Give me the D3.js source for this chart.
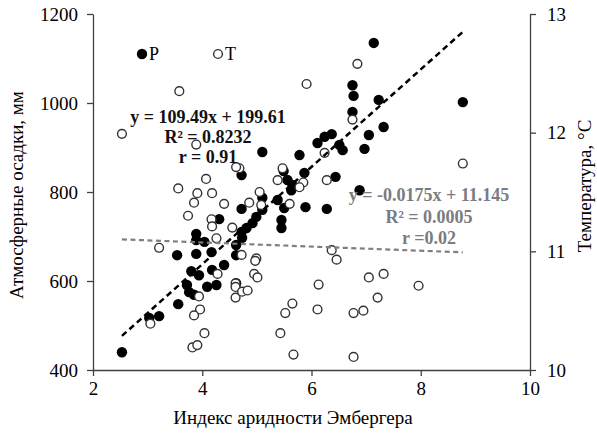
<!DOCTYPE html>
<html>
<head>
<meta charset="utf-8">
<script src="https://cdn.jsdelivr.net/npm/d3@7"></script>
<style>
  body { margin: 0; background: #fff; }
  svg text { font-family: "Liberation Serif", "Times New Roman", serif; }
</style>
</head>
<body>
<div id="chart"></div>
<script>
// Precipitation (P, filled) vs Emberger aridity index
let precipIndex = [7.14, 6.75, 6.77, 7.23, 6.75, 7.05, 6.37, 6.24, 7.32, 6.11, 6.97, 6.51, 6.57, 5.10, 5.78,
    4.72, 5.87, 5.56, 5.65, 5.63, 6.44, 6.88, 5.10, 4.72, 5.38, 5.50, 5.89, 6.28, 5.10, 4.99, 4.92,
    5.45, 5.45, 4.81, 4.72, 4.73, 4.62, 4.31, 3.89, 3.89, 4.04, 3.54, 3.89, 4.17, 4.62, 4.40, 3.80,
    3.94, 4.18, 3.72, 3.76, 4.09, 4.26, 3.85, 3.56, 3.03, 3.21, 2.53, 8.77, 4.62, 5.49];
let precipValues = [1135, 1040, 1016, 1007, 980, 928, 930, 924, 946, 910, 897, 906, 894, 890, 883,
    838, 843, 827, 816, 804, 834, 804, 787, 762, 782, 764, 766, 762, 760, 744, 730,
    737, 719, 719, 710, 697, 681, 739, 706, 692, 688, 658, 661, 665, 658, 636, 622,
    613, 625, 591, 575, 587, 591, 569, 548, 517, 521, 440, 1002, 595, 847];

// Temperature (T, open) vs Emberger aridity index
let tempIndex = [3.58, 2.53, 6.84, 5.91, 6.75, 6.24, 4.68, 5.47, 5.38, 5.85, 5.78, 6.28, 5.05, 4.86, 5.60,
    5.08, 4.55, 6.37, 6.46, 4.72, 4.99, 3.89, 4.62, 4.07, 3.56, 3.91, 4.18, 3.85, 4.40, 3.74, 4.17,
    4.18, 4.26, 3.21, 4.28, 3.94, 4.61, 4.61, 4.61, 3.96, 3.85, 3.05, 4.04, 3.82, 3.91, 4.97, 4.95,
    5.01, 4.73, 4.83, 5.65, 5.52, 5.43, 5.67, 6.13, 6.11, 6.77, 6.95, 6.77, 7.05, 7.21, 7.32, 7.96, 8.77];
let tempValues = [12.35, 11.99, 12.58, 12.41, 12.11, 11.83, 11.70, 11.70, 11.60, 11.58, 11.54, 11.60, 11.50, 11.41, 11.40,
    11.39, 11.20, 11.01, 10.93, 10.97, 10.94, 11.90, 11.71, 11.61, 11.53, 11.49, 11.49, 11.41, 11.40, 11.30, 11.27,
    11.21, 11.11, 11.03, 10.81, 10.62, 10.73, 10.70, 10.61, 10.51, 10.46, 10.39, 10.31, 10.19, 10.21, 10.92, 10.81,
    10.78, 10.66, 10.67, 10.56, 10.48, 10.31, 10.13, 10.72, 10.51, 10.48, 10.50, 10.11, 10.78, 10.61, 10.81, 10.71, 11.74];

let xTicks = [2, 4, 6, 8, 10];
let precipTicks = [400, 600, 800, 1000, 1200];
let tempTicks = [10, 11, 12, 13];

// trendline coefficients [slope, intercept]
let precipFit = [109.49, 199.61];
let tempFit = [-0.0175, 11.145];
let precipFitText = ["y = 109.49x + 199.61", "R² = 0.8232", "r = 0.91"];
let tempFitText = ["y = -0.0175x + 11.145", "R² = 0.0005", "r =0.02"];

let width = 597, height = 433;
let margin = {top: 14, right: 67, bottom: 63, left: 93};

let svg = d3.select("#chart")
    .append("svg")
        .attr("width", width)
        .attr("height", height);

svg.append("rect")
    .attr("width", width)
    .attr("height", height)
    .attr("fill", "#fff");

let x = d3.scaleLinear()
    .domain([2, 10])
    .range([margin.left, width - margin.right]);

let yP = d3.scaleLinear()
    .domain([400, 1200])
    .range([height - margin.bottom, margin.top]);

let yT = d3.scaleLinear()
    .domain([10, 13])
    .range([height - margin.bottom, margin.top]);

let axisColor = "#404040";
let serif = '"Liberation Serif", "Times New Roman", serif';

function styleAxis(g) {
    g.attr("font-family", serif).attr("font-size", 19);
    g.select(".domain").attr("stroke", axisColor).attr("stroke-width", 1.3);
    g.selectAll(".tick line").attr("stroke", axisColor).attr("stroke-width", 1.3);
    g.selectAll(".tick text").attr("fill", "#000");
}

svg.append("g")
    .attr("transform", `translate(0,${height - margin.bottom})`)
    .call(d3.axisBottom(x).tickValues(xTicks).tickFormat(d3.format("d"))
        .tickSize(6).tickPadding(6).tickSizeOuter(0))
    .call(styleAxis);

svg.append("g")
    .attr("transform", `translate(${margin.left},0)`)
    .call(d3.axisLeft(yP).tickValues(precipTicks).tickFormat(d3.format("d"))
        .tickSize(6).tickPadding(9).tickSizeOuter(0))
    .call(styleAxis);

svg.append("g")
    .attr("transform", `translate(${width - margin.right},0)`)
    .call(d3.axisRight(yT).tickValues(tempTicks).tickFormat(d3.format("d"))
        .tickSize(6).tickPadding(11).tickSizeOuter(0))
    .call(styleAxis);

// axis titles
svg.append("text")
    .attr("transform", "translate(23,195) rotate(-90)")
    .attr("text-anchor", "middle")
    .style("font-size", "19px")
    .text("Атмосферные осадки, мм");

svg.append("text")
    .attr("transform", "translate(591,186) rotate(-90)")
    .attr("text-anchor", "middle")
    .style("font-size", "19px")
    .text("Температура, °C");

svg.append("text")
    .attr("x", 293)
    .attr("y", 424)
    .attr("text-anchor", "middle")
    .style("font-size", "19px")
    .text("Индекс аридности Эмбергера");

// points
let pData = precipIndex.map((d, i) => ({x: d, v: precipValues[i]}));
let tData = tempIndex.map((d, i) => ({x: d, v: tempValues[i]}));

svg.append("g")
    .selectAll("circle")
    .data(pData)
    .enter()
    .append("circle")
        .attr("cx", d => x(d.x))
        .attr("cy", d => yP(d.v))
        .attr("r", 5.2)
        .attr("fill", "#000");

svg.append("g")
    .selectAll("circle")
    .data(tData)
    .enter()
    .append("circle")
        .attr("cx", d => x(d.x))
        .attr("cy", d => yT(d.v))
        .attr("r", 4.4)
        .attr("fill", "#fff")
        .attr("stroke", "#333")
        .attr("stroke-width", 1.4);

// trendlines across the data range
let pExt = d3.extent(precipIndex);
let tExt = d3.extent(tempIndex);

svg.append("line")
    .attr("x1", x(pExt[0])).attr("y1", yP(precipFit[0] * pExt[0] + precipFit[1]))
    .attr("x2", x(pExt[1])).attr("y2", yP(precipFit[0] * pExt[1] + precipFit[1]))
    .attr("stroke", "#000")
    .attr("stroke-width", 2.5)
    .attr("stroke-dasharray", "6,4");

svg.append("line")
    .attr("x1", x(tExt[0])).attr("y1", yT(tempFit[0] * tExt[0] + tempFit[1]))
    .attr("x2", x(tExt[1])).attr("y2", yT(tempFit[0] * tExt[1] + tempFit[1]))
    .attr("stroke", "#7f7f7f")
    .attr("stroke-width", 2.2)
    .attr("stroke-dasharray", "5,3.5");

// legend
svg.append("circle").attr("cx", 142).attr("cy", 54).attr("r", 5.2).attr("fill", "#000");
svg.append("text").attr("x", 149).attr("y", 60).style("font-size", "18px").text("P");
svg.append("circle").attr("cx", 218).attr("cy", 54).attr("r", 4.4)
    .attr("fill", "#fff").attr("stroke", "#333").attr("stroke-width", 1.4);
svg.append("text").attr("x", 225).attr("y", 60).style("font-size", "18px").text("T");

// equation labels
svg.append("g")
    .selectAll("text")
    .data(precipFitText)
    .enter()
    .append("text")
        .attr("x", 208)
        .attr("y", (d, i) => 123 + i * 20)
        .attr("text-anchor", "middle")
        .attr("font-weight", "bold")
        .attr("fill", "#111")
        .style("font-size", "18px")
        .text(d => d);

svg.append("g")
    .selectAll("text")
    .data(tempFitText)
    .enter()
    .append("text")
        .attr("x", 429)
        .attr("y", (d, i) => 201 + i * 21.5)
        .attr("text-anchor", "middle")
        .attr("font-weight", "bold")
        .attr("fill", "#7a7c82")
        .style("font-size", "18px")
        .text(d => d);
</script>
</body>
</html>
